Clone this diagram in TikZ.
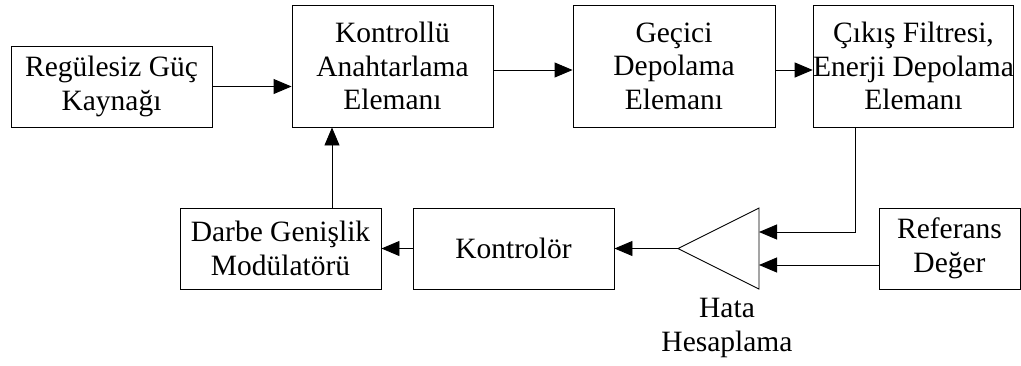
\documentclass[tikz,border=0pt]{standalone}
\usepackage{fontspec}
\setmainfont{Liberation Serif}
\usetikzlibrary{arrows.meta}
\begin{document}
\begin{tikzpicture}[x=1pt,y=-1pt,
  blk/.style={draw, line width=0.9pt, inner sep=0pt, align=center, font=\fontsize{29.5}{33.5}\selectfont},
  lbl/.style={inner sep=0pt, align=center, font=\fontsize{29.5}{33.5}\selectfont},
  arr/.style={line width=0.9pt, -{Triangle[length=18pt,width=15pt]}},
  ln/.style={line width=0.9pt}]
\useasboundingbox (0,0) rectangle (1021,365);
\node[blk, minimum width=201pt, minimum height=81pt] (reg) at (111.5,86.5) {Regülesiz Güç\\Kaynağı};
\node[blk, minimum width=201pt, minimum height=122pt] (kon) at (392.5,66) {Kontrollü\\Anahtarlama\\Elemanı};
\node[blk, minimum width=202pt, minimum height=122pt] (gec) at (674,66) {Geçici\\Depolama\\Elemanı};
\node[blk, minimum width=197pt, minimum height=122pt] (cik) at (913.5,66) {Çıkış Filtresi,\\Enerji Depolama\\Elemanı};
\node[blk, minimum width=201pt, minimum height=81pt] (dgm) at (280.5,248.5) {Darbe Genişlik\\Modülatörü};
\node[blk, minimum width=201pt, minimum height=81pt] (ktr) at (513.5,248.5) {Kontrolör};
\node[blk, minimum width=141pt, minimum height=81pt] (ref) at (949.5,248.5) {Referans\\Değer};
\coordinate (tip) at (678,248.5);
\coordinate (tb1) at (759,208);
\coordinate (tb2) at (759,289);
\coordinate (in1) at (759,232);
\coordinate (in2) at (759,265);
\coordinate (fb) at (855,0);
\coordinate (up) at (332,0);
\draw[ln] (tip) -- (tb1) -- (tb2) -- cycle;
\node[lbl] (hata) at (727,328) {Hata\\Hesaplama};
\draw[arr] (reg.east) -- (reg.east -| kon.west);
\draw[arr] ([yshift=-4pt]kon.east) -- ([yshift=-4pt]gec.west);
\draw[arr] ([yshift=-4pt]gec.east) -- ([yshift=-4pt]cik.west);
\draw[arr] (fb |- cik.south) |- (in1);
\draw[arr] (ref.west |- in2) -- (in2);
\draw[arr] (tip) -- (tip -| ktr.east);
\draw[arr] (ktr.west) -- (dgm.east);
\draw[arr] (up |- dgm.north) -- (up |- kon.south);
\end{tikzpicture}
\end{document}
